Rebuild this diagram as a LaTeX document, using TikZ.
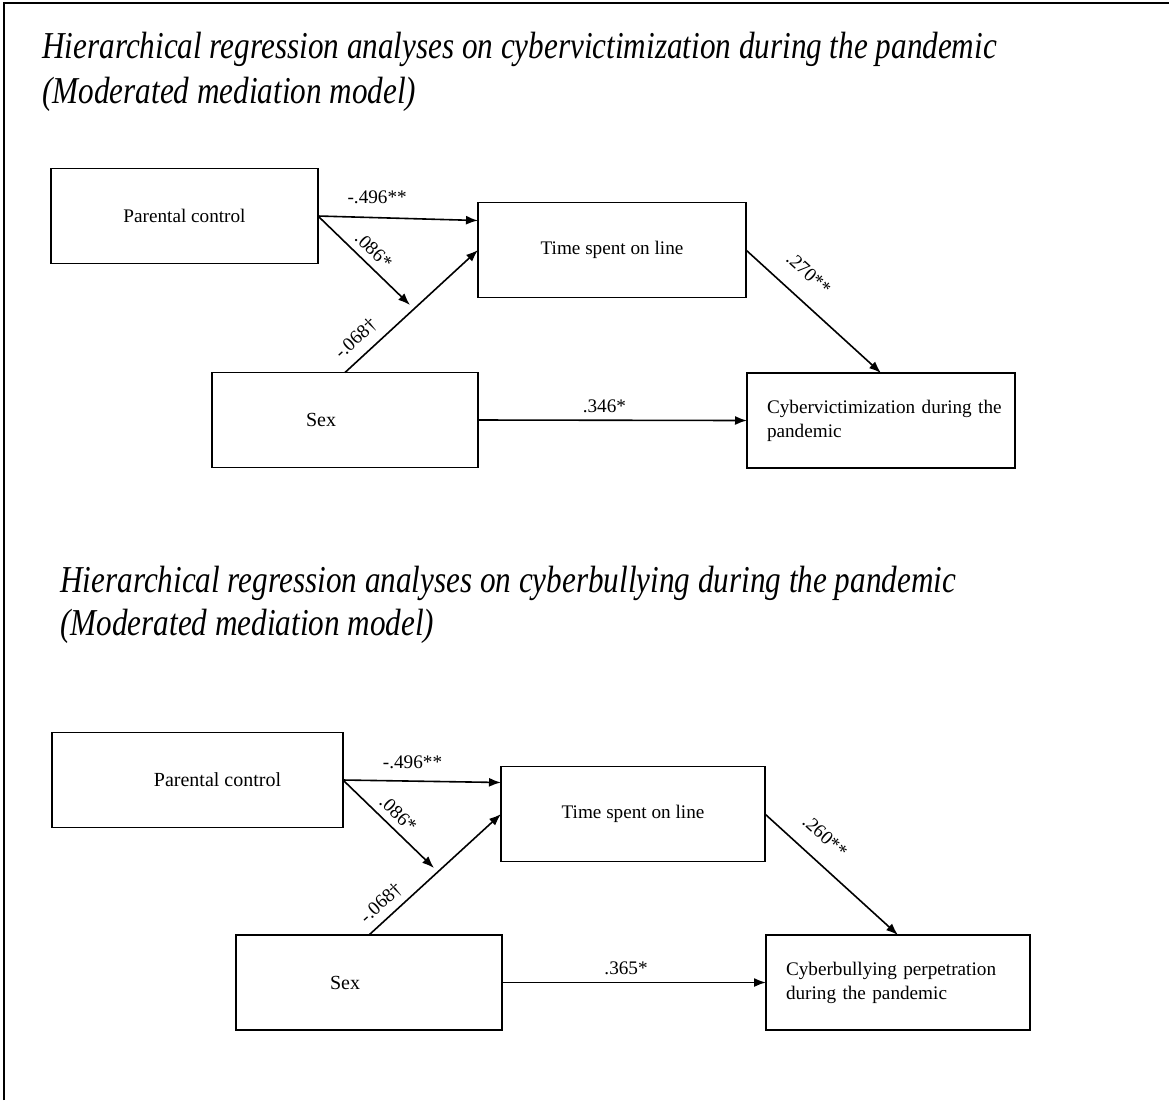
\documentclass[tikz,border=0pt]{standalone}
\usepackage{fontspec}
\setmainfont{Liberation Serif}
\newfontfamily\titlefont[FakeStretch=0.82]{Liberation Serif}
\usetikzlibrary{arrows.meta}

\tikzset{
  box/.style={draw, line width=0.9pt, minimum height=47.5pt, inner sep=0pt, outer sep=0pt, font=\fontsize{9.6}{12}\selectfont},
  outbox/.style={box, align=left, text width=#1, inner xsep=10pt},
  path/.style={line width=0.8pt, -{Latex[length=6pt,width=4.5pt]}},
  coef/.style={font=\fontsize{9.6}{12}\selectfont},
  heading/.style={font=\titlefont\itshape\fontsize{19}{22}\selectfont, anchor=base west, inner sep=0pt}
}

\begin{document}
\begin{tikzpicture}[x=0.5pt, y=-0.5pt]
  \useasboundingbox (0,0) rectangle (1169,1100);
  % frame
  \draw[line width=1pt] (4,1100) -- (4,3) -- (1169,3);

  % cybervictimization model
  \node[heading] (ttlA1) at (42,58) {Hierarchical regression analyses on cybervictimization during the pandemic};
  \node[heading] (ttlA2) at (42,103) {(Moderated mediation model)};

  \node[box, minimum width=133.5pt] (pcA) at (184.5,216) {Parental control};
  \node[box, minimum width=134pt] (tslA) at (612,250) {Time spent on line};
  \node[box, minimum width=133pt, label={[xshift=-12pt]center:Sex}] (sexA) at (345,420) {};
  \node[outbox=114pt, minimum width=134pt] (cvA) at (881,420.5) {\mbox{Cybervictimization during the}\\pandemic};
  \coordinate (modA) at (410,305);

  \draw[path] (pcA.east) -- ([yshift=-9pt]tslA.north west) node[coef, pos=0.37, above=3pt] {-.496**};
  \draw[path] (pcA.east) -- (modA) node[coef, midway, sloped, above] {.086*};
  \draw[path] (sexA.north) -- (tslA.west) node[coef, pos=0.17, sloped, above=1pt] {-.068†};
  \draw[path] (tslA.east) -- (cvA.north) node[coef, pos=0.34, sloped, above=5.5pt] {.270**};
  \draw[path] (sexA.east) -- (cvA.west) node[coef, pos=0.47, above] {.346*};

  % cyberbullying model
  \node[heading] (ttlB1) at (60,592) {Hierarchical regression analyses on cyberbullying during the pandemic};
  \node[heading] (ttlB2) at (60,635) {(Moderated mediation model)};

  \node[box, minimum width=145.5pt, label={[xshift=10pt]center:Parental control}] (pcB) at (197.5,780) {};
  \node[box, minimum width=132pt] (tslB) at (633,814) {Time spent on line};
  \node[box, minimum width=133pt, label={[xshift=-12pt]center:Sex}] (sexB) at (369,982.5) {};
  \node[outbox=112pt, minimum width=132pt] (cbB) at (898,982.5) {Cyberbullying perpetration\\during the pandemic};
  \coordinate (modB) at (434,868);

  \draw[path] (pcB.east) -- ([yshift=-8pt]tslB.north west) node[coef, pos=0.44, above=2.5pt] {-.496**};
  \draw[path] (pcB.east) -- (modB) node[coef, midway, sloped, above] {.086*};
  \draw[path] (sexB.north) -- (tslB.west) node[coef, pos=0.17, sloped, above] {-.068†};
  \draw[path] (tslB.east) -- (cbB.north) node[coef, pos=0.33, sloped, above=5pt] {.260**};
  \draw[path] (sexB.east) -- (cbB.west) node[coef, pos=0.47, above] {.365*};
\end{tikzpicture}
\end{document}
